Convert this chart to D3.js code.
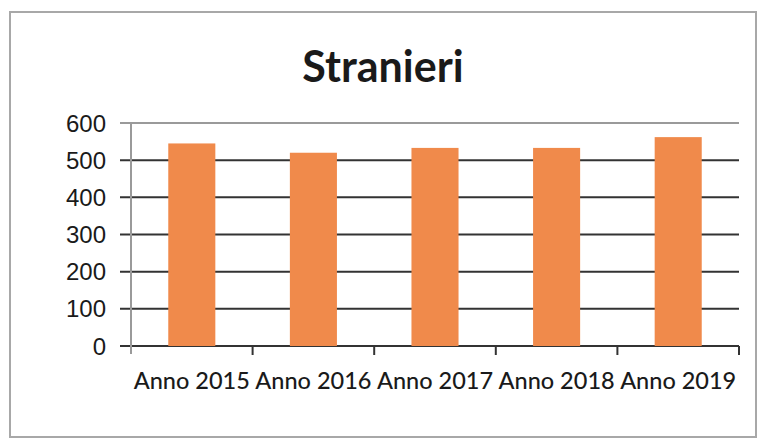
<!DOCTYPE html>
<html>
<head>
<meta charset="utf-8">
<script src="https://cdn.jsdelivr.net/npm/d3@7"></script>
<style>
    body { margin: 0; background: #fff; }
    text { font-family: Lato, "Open Sans", sans-serif; fill: #1a1a1a; }
</style>
</head>
<body>
<div class="vis-barchart"></div>
<script>
const title = 'Stranieri';
const categories = ['Anno 2015', 'Anno 2016', 'Anno 2017', 'Anno 2018', 'Anno 2019'];
const values = [545, 520, 533, 533, 562];
const yTicks = [0, 100, 200, 300, 400, 500, 600];

const outerWidth = 759;
const outerHeight = 441;
const margin = {top: 123, right: 20, bottom: 95, left: 131};
const width = outerWidth - margin.left - margin.right;
const height = outerHeight - margin.top - margin.bottom;

const root = d3.select('.vis-barchart').append('svg')
    .attr('width', outerWidth)
    .attr('height', outerHeight);

// chart frame
root.append('rect')
    .attr('x', 10).attr('y', 12)
    .attr('width', 746).attr('height', 425)
    .attr('fill', 'none')
    .attr('stroke', '#a8a8a8')
    .attr('stroke-width', 2);

root.append('text')
    .attr('x', 383)
    .attr('y', 82)
    .attr('text-anchor', 'middle')
    .style('font-size', '43px')
    .style('font-weight', 'bold')
    .text(title);

const svg = root.append('g')
    .attr('transform', 'translate(' + margin.left + ',' + margin.top + ')');

const x = d3.scaleBand()
    .domain(categories)
    .range([0, width])
    .paddingInner(0.613)
    .paddingOuter(0.3065);

const y = d3.scaleLinear()
    .domain([0, 600])
    .range([height, 0]);

// gridlines
svg.selectAll('.grid')
    .data(yTicks)
    .enter().append('line')
    .attr('x1', -11)
    .attr('x2', width)
    .attr('y1', d => y(d))
    .attr('y2', d => y(d))
    .attr('stroke', d => d === 600 ? '#9a9a9a' : '#333')
    .attr('stroke-width', 2);

// y axis line
svg.append('line')
    .attr('x1', 0).attr('x2', 0)
    .attr('y1', y(600)).attr('y2', height + 8)
    .attr('stroke', '#9a9a9a')
    .attr('stroke-width', 2);

// category ticks
const step = x.step();
svg.selectAll('.xtick')
    .data(categories)
    .enter().append('line')
    .attr('x1', (d, i) => (i + 1) * step)
    .attr('x2', (d, i) => (i + 1) * step)
    .attr('y1', height)
    .attr('y2', height + 9)
    .attr('stroke', '#333')
    .attr('stroke-width', 2);

// bars
svg.selectAll('.bar')
    .data(values)
    .enter().append('rect')
    .attr('x', (d, i) => x(categories[i]))
    .attr('width', x.bandwidth())
    .attr('y', d => y(d))
    .attr('height', d => height - y(d))
    .attr('fill', '#f08a4b');

// y labels
svg.selectAll('.ylabel')
    .data(yTicks)
    .enter().append('text')
    .attr('x', -25)
    .attr('y', d => y(d))
    .attr('dy', '0.36em')
    .attr('text-anchor', 'end')
    .style('font-family', '"Liberation Sans", Arial, sans-serif')
    .style('font-size', '24px')
    .text(d => d);

// x labels
svg.selectAll('.xlabel')
    .data(categories)
    .enter().append('text')
    .attr('x', d => x(d) + x.bandwidth() / 2)
    .attr('y', height + 43)
    .attr('text-anchor', 'middle')
    .style('font-size', '23.5px')
    .style('font-weight', 500)
    .text(d => d);
</script>
</body>
</html>
